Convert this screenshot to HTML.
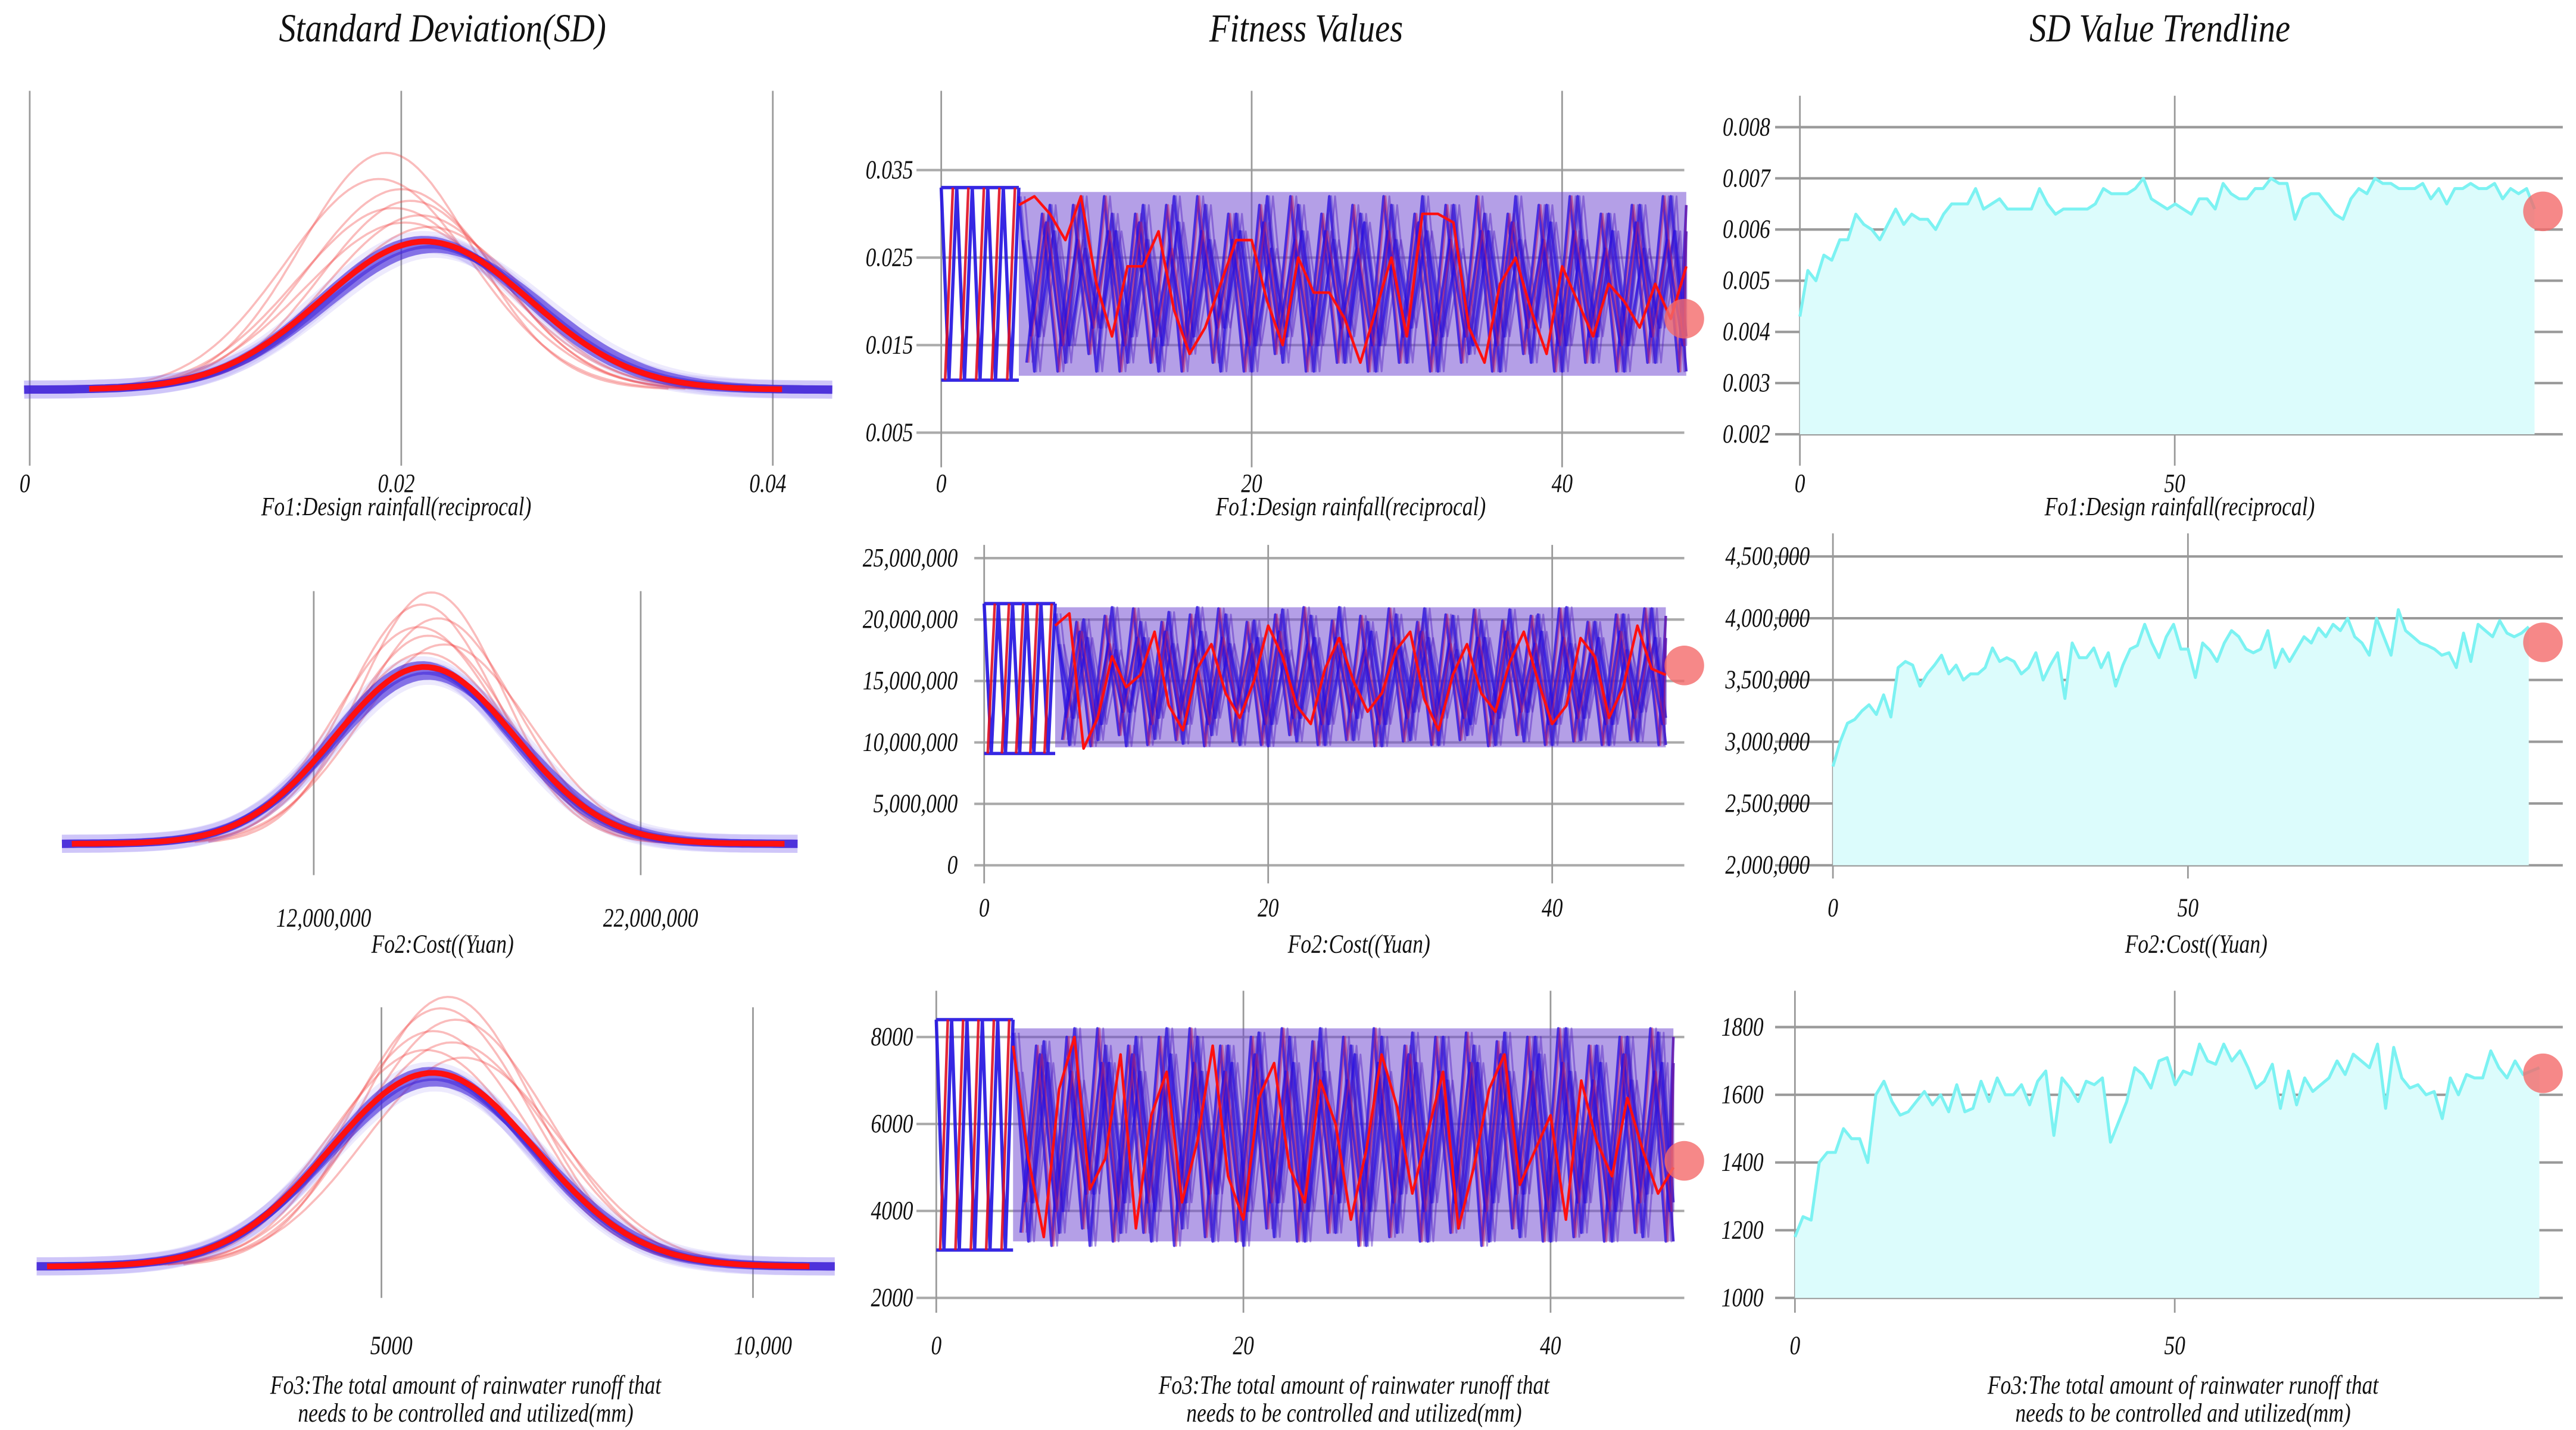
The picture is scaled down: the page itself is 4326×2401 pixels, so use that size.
<!DOCTYPE html>
<html><head><meta charset="utf-8"><style>
html,body{margin:0;padding:0;background:#fff;}
svg{display:block;}
text{font-family:"Liberation Serif",serif;font-style:italic;fill:#111;}
</style></head>
<body>
<svg id="chart" width="4326" height="2401" viewBox="0 0 1560 866" preserveAspectRatio="none" xmlns="http://www.w3.org/2000/svg">
<text transform="translate(268,25) scale(0.85,1)" font-size="24" text-anchor="middle">Standard Deviation(SD)</text>
<text transform="translate(791,25) scale(0.85,1)" font-size="24" text-anchor="middle">Fitness Values</text>
<text transform="translate(1308,25) scale(0.85,1)" font-size="24" text-anchor="middle">SD Value Trendline</text>
</svg>
<script>
// ---------- DATA ----------
const sd1Blue = [[0.0215,0.0056,1.0],[0.0218,0.0058,0.97],[0.0212,0.0055,1.03]];
const sd1Red = [[0.0213,0.0056,1.02]];
const sd1Thin = [[0.0192,0.0046,1.63],[0.0188,0.0050,1.45],[0.0200,0.0050,1.38],[0.0205,0.0048,1.30],[0.0196,0.0052,1.25],[0.0210,0.0050,1.20],[0.0202,0.0054,1.15],[0.0215,0.0052,1.12]];
const sd2Blue = [[15.4,2.75,1.0],[15.5,2.85,0.97],[15.3,2.7,1.03]];
const sd2Red = [[15.4,2.75,1.02]];
const sd2Thin = [[15.6,2.2,1.45],[15.3,2.3,1.38],[15.8,2.4,1.30],[15.2,2.5,1.25],[15.5,2.45,1.2],[16.0,2.6,1.15],[15.4,2.6,1.1]];
const sd3Blue = [[5690,1380,1.0],[5720,1420,0.97],[5660,1350,1.03]];
const sd3Red = [[5690,1380,1.02]];
const sd3Thin = [[5900,1150,1.42],[5800,1200,1.36],[6000,1250,1.3],[5700,1250,1.24],[5950,1300,1.18],[5600,1300,1.14],[6100,1320,1.1]];

const f1Blue1=[0.032,0.012,0.031,0.013,0.032,0.012,0.030,0.013,0.031,0.012,0.032,0.014,0.031,0.012,0.030,0.012,0.032,0.013,0.031,0.012,0.032,0.013,0.030,0.012,0.031,0.013,0.032,0.012,0.031,0.014,0.030,0.012,0.032,0.013,0.031,0.012,0.032,0.013,0.030,0.012,0.031,0.013,0.032,0.012];
const f1Blue2=[0.013,0.030,0.012,0.031,0.014,0.032,0.012,0.030,0.013,0.031,0.012,0.032,0.013,0.030,0.012,0.031,0.014,0.032,0.012,0.030,0.013,0.031,0.012,0.032,0.013,0.030,0.012,0.031,0.013,0.032,0.012,0.030,0.014,0.031,0.012,0.032,0.013,0.030,0.012,0.031,0.013,0.032,0.012,0.031];
const f1Blue3=[0.027,0.016,0.028,0.015,0.026,0.017,0.028,0.016,0.027,0.015,0.029,0.016,0.027,0.017,0.028,0.015,0.026,0.016,0.028,0.015,0.027,0.016,0.029,0.015,0.027,0.017,0.028,0.016,0.026,0.015,0.028,0.016,0.027,0.017,0.029,0.015,0.027,0.016,0.028,0.015,0.026,0.017,0.028,0.016];
const f1Blue4=[0.016,0.029,0.015,0.027,0.017,0.028,0.015,0.029,0.016,0.026,0.015,0.028,0.017,0.027,0.015,0.029,0.016,0.027,0.015,0.028,0.017,0.026,0.015,0.028,0.016,0.029,0.015,0.027,0.016,0.028,0.015,0.029,0.017,0.027,0.015,0.028,0.016,0.026,0.015,0.029,0.016,0.027,0.015,0.028];
const f1Red=[0.031,0.032,0.030,0.027,0.032,0.022,0.016,0.024,0.024,0.028,0.019,0.014,0.017,0.022,0.027,0.027,0.020,0.015,0.025,0.021,0.021,0.018,0.013,0.019,0.025,0.016,0.030,0.030,0.029,0.017,0.013,0.022,0.025,0.019,0.014,0.024,0.020,0.016,0.022,0.020,0.017,0.022,0.018,0.024];
const f1Band=[0.0115,0.0325];
const f1Init=[0.033,0.011];

const f2Blue1=[20.5,9.8,20.0,10.2,21.0,9.7,19.8,10.3,20.6,9.9,21.0,10.6,20.4,9.8,19.9,9.7,20.8,10.1,20.3,9.8,21.0,10.2,19.8,9.7,20.4,10.2,20.9,9.8,20.3,10.6,19.9,9.8,20.8,10.1,20.4,9.8,21.0,10.2,19.8,9.8,20.4,10.1,20.9,9.8];
const f2Blue2=[10.2,19.8,9.7,20.3,10.6,20.9,9.8,19.8,10.2,20.4,9.7,20.9,10.1,19.8,9.8,20.4,10.6,21.0,9.8,19.9,10.2,20.3,9.7,20.9,10.1,19.8,9.8,20.4,10.2,20.8,9.7,19.9,10.6,20.3,9.8,20.9,10.1,19.8,9.8,20.4,10.2,20.9,9.8,20.3];
const f2Blue3=[18.0,12.0,18.5,11.5,17.5,12.5,18.5,12.0,18.0,11.5,19.0,12.0,18.0,12.5,18.5,11.5,17.5,12.0,18.5,11.5,18.0,12.0,19.0,11.5,18.0,12.5,18.5,12.0,17.5,11.5,18.5,12.0,18.0,12.5,19.0,11.5,18.0,12.0,18.5,11.5,17.5,12.5,18.5,12.0];
const f2Blue4=[12.0,19.0,11.5,18.0,12.5,18.5,11.5,19.0,12.0,17.5,11.5,18.5,12.5,18.0,11.5,19.0,12.0,18.0,11.5,18.5,12.5,17.5,11.5,18.5,12.0,19.0,11.5,18.0,12.0,18.5,11.5,19.0,12.5,18.0,11.5,18.5,12.0,17.5,11.5,19.0,12.0,18.0,11.5,18.5];
const f2Red=[19.5,20.5,9.5,12.0,17.0,14.5,15.5,19.0,13.0,11.0,16.0,18.0,14.0,12.0,15.0,19.5,17.0,13.0,11.5,16.0,18.5,15.0,12.5,14.0,17.5,19.0,13.5,11.0,15.5,18.0,14.0,12.5,16.5,19.0,15.0,11.5,13.0,18.5,17.0,12.0,14.5,19.5,16.0,15.5];
const f2Band=[9.6,21.0];
const f2Init=[21.3,9.1];

const f3Blue1=[8100,3300,7900,3500,8200,3200,7800,3500,8000,3300,8200,3600,8000,3300,7800,3200,8100,3400,8000,3300,8200,3500,7800,3200,8000,3500,8100,3300,8000,3600,7800,3300,8100,3400,8000,3300,8200,3500,7800,3300,8000,3400,8100,3300];
const f3Blue2=[3500,7800,3200,8000,3600,8200,3300,7800,3500,8000,3200,8200,3400,7800,3300,8000,3600,8200,3300,7900,3500,8000,3200,8200,3400,7800,3300,8000,3500,8100,3200,7900,3600,8000,3300,8200,3400,7800,3300,8000,3500,8200,3300,8000];
const f3Blue3=[7200,4200,7400,4000,7000,4400,7400,4200,7200,4000,7600,4200,7200,4400,7400,4000,7000,4200,7400,4000,7200,4200,7600,4000,7200,4400,7400,4200,7000,4000,7400,4200,7200,4400,7600,4000,7200,4200,7400,4000,7000,4400,7400,4200];
const f3Blue4=[4200,7600,4000,7200,4400,7400,4000,7600,4200,7000,4000,7400,4400,7200,4000,7600,4200,7200,4000,7400,4400,7000,4000,7400,4200,7600,4000,7200,4200,7400,4000,7600,4400,7200,4000,7400,4200,7000,4000,7600,4200,7200,4000,7400];
const f3Red=[7800,5200,3400,6800,8000,4500,5200,7600,3600,6200,7200,4200,5600,7800,4800,3800,6600,7400,5000,4200,7000,6000,3800,5400,7600,6400,4400,5800,7200,3600,5000,6800,7600,4600,5400,6200,3800,7000,5600,4800,6600,5400,4400,5000];
const f3Band=[3300,8200];
const f3Init=[8400,3100];

const t1Values=[0.0043,0.0052,0.0050,0.0055,0.0054,0.0058,0.0058,0.0063,0.0061,0.0060,0.0058,0.0061,0.0064,0.0061,0.0063,0.0062,0.0062,0.0060,0.0063,0.0065,0.0065,0.0065,0.0068,0.0064,0.0065,0.0066,0.0064,0.0064,0.0064,0.0064,0.0068,0.0065,0.0063,0.0064,0.0064,0.0064,0.0064,0.0065,0.0068,0.0067,0.0067,0.0067,0.0068,0.0070,0.0066,0.0065,0.0064,0.0065,0.0064,0.0063,0.0066,0.0066,0.0064,0.0069,0.0067,0.0066,0.0066,0.0068,0.0068,0.0070,0.0069,0.0069,0.0062,0.0066,0.0067,0.0067,0.0065,0.0063,0.0062,0.0066,0.0068,0.0067,0.0070,0.0069,0.0069,0.0068,0.0068,0.0068,0.0069,0.0066,0.0068,0.0065,0.0068,0.0068,0.0069,0.0068,0.0068,0.0069,0.0066,0.0068,0.0067,0.0068,0.0064];
const t2Values=[2.80,3.00,3.15,3.18,3.25,3.30,3.22,3.38,3.20,3.60,3.65,3.62,3.45,3.55,3.62,3.70,3.55,3.62,3.50,3.55,3.55,3.60,3.76,3.65,3.68,3.65,3.55,3.60,3.72,3.50,3.62,3.72,3.35,3.80,3.68,3.68,3.76,3.60,3.72,3.45,3.62,3.75,3.78,3.95,3.80,3.68,3.85,3.95,3.75,3.75,3.52,3.80,3.74,3.65,3.80,3.90,3.85,3.75,3.72,3.75,3.90,3.60,3.75,3.65,3.75,3.85,3.80,3.92,3.85,3.95,3.90,4.00,3.85,3.80,3.70,4.00,3.85,3.70,4.07,3.90,3.85,3.80,3.78,3.75,3.70,3.72,3.60,3.88,3.65,3.95,3.90,3.85,3.98,3.88,3.85,3.88,3.93];
const t3Values=[1180,1240,1230,1400,1430,1430,1500,1470,1470,1400,1600,1640,1580,1540,1550,1580,1610,1570,1600,1550,1630,1550,1560,1640,1580,1650,1600,1600,1630,1570,1640,1670,1480,1650,1620,1580,1640,1630,1650,1460,1520,1580,1680,1660,1620,1700,1710,1630,1670,1660,1750,1700,1690,1750,1700,1730,1680,1620,1640,1690,1560,1670,1570,1650,1610,1630,1650,1700,1660,1720,1700,1680,1750,1560,1740,1650,1620,1630,1600,1610,1530,1650,1600,1660,1650,1650,1730,1680,1650,1700,1660,1670,1680];
const tLastX=98;

const sd1Ticks=[0,0.02,0.04], sd1Labels=["0","0.02","0.04"];
const sd2Ticks=[12,22], sd2Labels=["12,000,000","22,000,000"];
const sd3Ticks=[5000,10000], sd3Labels=["5000","10,000"];
const f1YTicks=[0.035,0.025,0.015,0.005], f1YLabels=["0.035","0.025","0.015","0.005"];
const f2YTicks=[25,20,15,10,5,0], f2YLabels=["25,000,000","20,000,000","15,000,000","10,000,000","5,000,000","0"];
const f3YTicks=[8000,6000,4000,2000], f3YLabels=["8000","6000","4000","2000"];
const fXTicks=[0,20,40], fXLabels=["0","20","40"];
const t1YTicks=[0.008,0.007,0.006,0.005,0.004,0.003,0.002], t1YLabels=["0.008","0.007","0.006","0.005","0.004","0.003","0.002"];
const t2YTicks=[4.5,4,3.5,3,2.5,2], t2YLabels=["4,500,000","4,000,000","3,500,000","3,000,000","2,500,000","2,000,000"];
const t3YTicks=[1800,1600,1400,1200,1000], t3YLabels=["1800","1600","1400","1200","1000"];
const tXTicks=[0,50], tXLabels=["0","50"];

// ---------- DRAW ----------
const svg=document.getElementById('chart');
const NS="http://www.w3.org/2000/svg";
function mk(tag,attrs){const e=document.createElementNS(NS,tag);for(const k in attrs)e.setAttribute(k,attrs[k]);svg.appendChild(e);return e;}
function line(x1,y1,x2,y2,stroke,w,name){const e=mk('line',{x1,y1,x2,y2,stroke,'stroke-width':w});

return e;}
function txt(x,y,s,size,anchor,name){const e=mk('text',{transform:'translate('+x+','+y+') scale(0.8,1)','font-size':size,'text-anchor':anchor});e.textContent=s;

return e;}
function path(d,stroke,w,op,fill,name){const e=mk('path',{d,stroke,'stroke-width':w,'stroke-opacity':op,fill:fill||'none','stroke-linejoin':'round'});

return e;}
function circ(cx,cy,name){const e=mk('circle',{cx,cy,r:12,fill:'#f46a6a','fill-opacity':0.8});

}

function distPanel(p){
  const xs=v=>p.x0+(v-p.v0)*p.kx;
  p.ticks.forEach((t,i)=>{line(xs(t),p.gTop,xs(t),p.gBot,'#999',1,'sd-gridline');
    txt(xs(t)+p.lblDx,p.lblY,p.labels[i],16,'middle','sd-x-tick-label');});
  function curve(par,from,to){const [m,s,h]=par;let d='';const n=120;
    for(let i=0;i<=n;i++){const v=from+(to-from)*i/n;const y=p.base-h*p.H*Math.exp(-0.5*((v-m)/s)**2);d+=(i?'L':'M')+xs(v).toFixed(1)+' '+y.toFixed(1);}return d;}
  p.thin.forEach(c=>path(curve(c,c[0]-3.1*c[1],c[0]+3.3*c[1]),'#f04040',1.3,0.35,null,'sd-thin-red-curve'));
  p.blue.forEach(c=>path(curve(c,p.from,p.to),'#3010d0',5,0.55,null,'sd-blue-curve'));
  p.blue.forEach(c=>path(curve(c,p.from,p.to),'#6a50f0',11,0.12,null,'sd-blue-halo'));
  p.red.forEach(c=>path(curve(c,p.rfrom,p.rto),'#ff1010',3.5,1,null,'sd-red-curve'));
  p.title.forEach((t,i)=>txt(p.titleX,p.titleY+i*17,t,16,'middle','sd-axis-title'));
}
distPanel({x0:18,v0:0,kx:11250,ticks:sd1Ticks,labels:sd1Labels,gTop:55,gBot:282,lblY:298,lblDx:-3,base:236,H:88,
  blue:sd1Blue,red:sd1Red,thin:sd1Thin,from:-0.0003,to:0.0432,rfrom:0.0032,rto:0.0405,title:["Fo1:Design rainfall(reciprocal)"],titleX:240,titleY:312});
distPanel({x0:190,v0:12,kx:19.8,ticks:sd2Ticks,labels:sd2Labels,gTop:358,gBot:530,lblY:561,lblDx:6,base:511,H:105,
  blue:sd2Blue,red:sd2Red,thin:sd2Thin,from:4.3,to:26.8,rfrom:4.6,rto:26.4,title:["Fo2:Cost((Yuan)"],titleX:268,titleY:577});
distPanel({x0:231,v0:5000,kx:0.045,ticks:sd3Ticks,labels:sd3Labels,gTop:610,gBot:786,lblY:820,lblDx:6,base:767,H:115,
  blue:sd3Blue,red:sd3Red,thin:sd3Thin,from:360,to:11100,rfrom:500,rto:10760,title:["Fo3:The total amount of rainwater runoff that","needs to be controlled and utilized(mm)"],titleX:282,titleY:844});

function fitPanel(p){
  const xs=v=>p.x0+v*p.kx, ys=v=>p.y0-(v-p.v0)*p.ky;
  p.yt.forEach((t,i)=>{line(p.hx1,ys(t),1020,ys(t),'#aaa',1.5,'fitness-gridline');
    txt(p.lblX,ys(t)+5,p.yl[i],16,'end','fitness-y-tick-label');});
  fXTicks.forEach((t,i)=>{line(xs(t),p.gTop,xs(t),p.gBot,'#999',1,'fitness-x-gridline');
    txt(xs(t),p.xlY,fXLabels[i],16,'middle','fitness-x-tick-label');});
  const b=mk('rect',{x:xs(5),y:ys(p.band[1]),width:xs(48)-xs(5),height:ys(p.band[0])-ys(p.band[1]),fill:'#6a40d0','fill-opacity':0.5});
  
  
  const iy1=ys(p.init[0]), iy2=ys(p.init[1]);
  let d='M'+xs(0)+' '+iy1+'L'+xs(5)+' '+iy1+'M'+xs(0)+' '+iy2+'L'+xs(5)+' '+iy2;
  for(let k=0;k<5;k++){d+='M'+xs(k)+' '+iy1+'L'+xs(k+0.5)+' '+iy2+'L'+xs(k+1)+' '+iy1;}
  path(d,'#2010e0',2,0.9,null,'fitness-initial-blue');
  let dr='';for(let k=0;k<5;k++){dr+='M'+xs(k+0.25)+' '+iy2+'L'+xs(k+0.75)+' '+iy1;}
  path(dr,'#e01020',1.6,0.9,null,'fitness-initial-red');
  function ser(arr,off){return arr.map((v,i)=>(i?'L':'M')+xs(Math.min(48,5+i+off)).toFixed(1)+' '+ys(v).toFixed(1)).join('');}
  const offs=[0,0.5,0.25,0.75];
  p.blues.forEach((a,j)=>{
    path(ser(a,offs[j]),'#2a10e0',1.6,0.8,null,'fitness-blue-series');
    path(ser(a,offs[j]+0.12),j%2?'#c02060':'#4a30d0',1.2,0.5,null,'fitness-mixed-series');
    path(ser(a,offs[j]+0.37),'#5020c0',1.1,0.45,null,'fitness-mixed-series');});
  path(ser(p.red,0),'#ff1010',1.6,1,null,'fitness-red-series');
  circ(1020,p.dotY,'fitness-current-marker');
  p.title.forEach((t,i)=>txt(p.titleX,p.titleY+i*17,t,16,'middle','fitness-axis-title'));
}
fitPanel({x0:570,kx:9.4,y0:262,v0:0.005,ky:5300,hx1:555,lblX:553,yt:f1YTicks,yl:f1YLabels,gTop:55,gBot:283,xlY:298,
  band:f1Band,init:f1Init,blues:[f1Blue1,f1Blue2,f1Blue3,f1Blue4],red:f1Red,dotY:193,title:["Fo1:Design rainfall(reciprocal)"],titleX:818,titleY:312});
fitPanel({x0:596,kx:8.6,y0:524,v0:0,ky:7.44,hx1:590,lblX:580,yt:f2YTicks,yl:f2YLabels,gTop:330,gBot:535,xlY:555,
  band:f2Band,init:f2Init,blues:[f2Blue1,f2Blue2,f2Blue3,f2Blue4],red:f2Red,dotY:403,title:["Fo2:Cost((Yuan)"],titleX:823,titleY:577});
fitPanel({x0:567,kx:9.3,y0:786,v0:2000,ky:0.02633,hx1:555,lblX:553,yt:f3YTicks,yl:f3YLabels,gTop:600,gBot:795,xlY:820,
  band:f3Band,init:f3Init,blues:[f3Blue1,f3Blue2,f3Blue3,f3Blue4],red:f3Red,dotY:703,title:["Fo3:The total amount of rainwater runoff that","needs to be controlled and utilized(mm)"],titleX:820,titleY:844});

function trendPanel(p){
  const xs=v=>p.x0+v*p.kx, ys=v=>p.y0-(v-p.v0)*p.ky;
  p.yt.forEach((t,i)=>{line(1075,ys(t),1552,ys(t),'#999',1.5,'trend-gridline');
    txt(p.lblX,ys(t)+5,p.yl[i],16,'end','trend-y-tick-label');});
  tXTicks.forEach((t,i)=>{line(xs(t),p.gTop,xs(t),p.gBot,'#999',1,'trend-x-gridline');
    txt(xs(t),p.xlY,tXLabels[i],16,'middle','trend-x-tick-label');});
  const n=p.vals.length;const px=i=>xs(i*tLastX/(n-1));
  let d=p.vals.map((v,i)=>(i?'L':'M')+px(i).toFixed(1)+' '+ys(v).toFixed(1)).join('');
  path(d+'L'+px(n-1)+' '+ys(p.v0)+'L'+px(0)+' '+ys(p.v0)+'Z','none',0,0,'#dcfcfc','trend-area-fill');
  path(d,'#7cf2f2',1.8,1,null,'trend-line');
  circ(1540,p.dotY,'trend-current-marker');
}
trendPanel({x0:1090,kx:4.54,y0:263,v0:0.002,ky:31000,lblX:1072,yt:t1YTicks,yl:t1YLabels,gTop:58,gBot:282,xlY:298,vals:t1Values,dotY:128});
trendPanel({x0:1110,kx:4.3,y0:524,v0:2,ky:74.8,lblX:1096,yt:t2YTicks,yl:t2YLabels,gTop:323,gBot:532,xlY:555,vals:t2Values,dotY:389});
trendPanel({x0:1087,kx:4.6,y0:786,v0:1000,ky:0.205,lblX:1068,yt:t3YTicks,yl:t3YLabels,gTop:600,gBot:795,xlY:820,vals:t3Values,dotY:650});
txt(1320,312,"Fo1:Design rainfall(reciprocal)",16,'middle','trend-axis-title-fo1');
txt(1330,577,"Fo2:Cost((Yuan)",16,'middle','trend-axis-title-fo2');
txt(1322,844,"Fo3:The total amount of rainwater runoff that",16,'middle','trend-axis-title-line1');
txt(1322,861,"needs to be controlled and utilized(mm)",16,'middle','trend-axis-title-line2');
</script>
</body></html>
